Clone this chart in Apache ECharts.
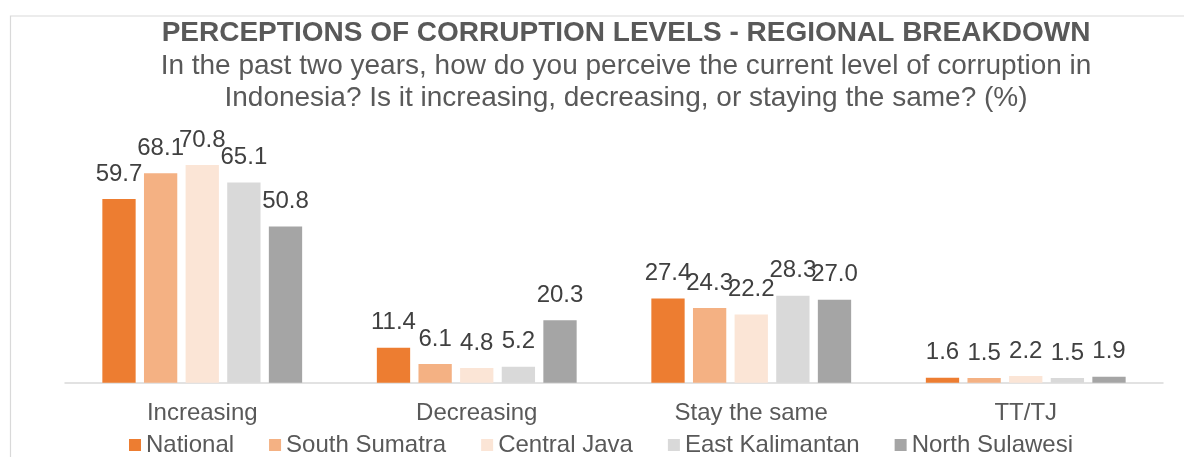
<!DOCTYPE html>
<html>
<head>
<meta charset="utf-8">
<script src="https://cdn.jsdelivr.net/npm/echarts@6/dist/echarts.min.js"></script>
<style>
html,body{margin:0;padding:0;background:#fff;}
#chart{width:1184px;height:457px;}
</style>
</head>
<body>
<div id="chart"></div>
<script>
const categories = ['Increasing', 'Decreasing', 'Stay the same', 'TT/TJ'];
const seriesNames = ['National', 'South Sumatra', 'Central Java', 'East Kalimantan', 'North Sulawesi'];
const national = [59.7, 11.4, 27.4, 1.6];
const southSumatra = [68.1, 6.1, 24.3, 1.5];
const centralJava = [70.8, 4.8, 22.2, 2.2];
const eastKalimantan = [65.1, 5.2, 28.3, 1.5];
const northSulawesi = [50.8, 20.3, 27.0, 1.9];
const colors = ['#ED7D31', '#F4B183', '#FBE5D6', '#D9D9D9', '#A5A5A5'];
const seriesData = [national, southSumatra, centralJava, eastKalimantan, northSulawesi];
const titleText = 'PERCEPTIONS OF CORRUPTION LEVELS - REGIONAL BREAKDOWN';
const subtitleText = 'In the past two years, how do you perceive the current level of corruption in\nIndonesia? Is it increasing, decreasing, or staying the same? (%)';

const FONT = '"Liberation Sans", Arial, sans-serif';
const chart = echarts.init(document.getElementById('chart'));
chart.setOption({
  animation: false,
  color: colors,
  textStyle: { fontFamily: FONT },
  graphic: [{
    type: 'rect',
    left: 8, top: 13.5,
    shape: { width: 1250, height: 520 },
    style: { fill: 'none', stroke: '#D9D9D9', lineWidth: 1.2 },
    silent: true, z: -1
  }],
  title: [{
    text: titleText,
    left: 626, top: 19.5, textAlign: 'center', padding: 0,
    textStyle: { fontFamily: FONT, fontSize: 28, lineHeight: 28, fontWeight: 'bold', color: '#595959' }
  }, {
    text: subtitleText,
    left: 626, top: 50, textAlign: 'center', padding: 0,
    textStyle: { fontFamily: FONT, fontSize: 28, lineHeight: 32.5, fontWeight: 'normal', color: '#595959', align: 'center' }
  }],
  legend: {
    top: 433, left: 129, padding: 0,
    itemWidth: 12, itemHeight: 12, itemGap: 35,
    icon: 'rect',
    textStyle: { fontFamily: FONT, fontSize: 24, color: '#595959' },
    data: seriesNames
  },
  grid: { left: 65, right: 21, top: 75.2, bottom: 74.3, containLabel: false },
  xAxis: {
    type: 'category', data: categories,
    axisTick: { show: false },
    axisLine: { lineStyle: { color: '#D9D9D9', width: 1.5 } },
    axisLabel: { fontFamily: FONT, fontSize: 24, color: '#595959', margin: 19 }
  },
  yAxis: { type: 'value', min: 0, max: 100, show: false, splitLine: { show: false } },
  series: seriesNames.map((name, i) => ({
    name, type: 'bar', data: seriesData[i],
    barWidth: 33.3, barGap: '25%',
    itemStyle: { color: colors[i] },
    label: { show: true, position: 'top', distance: 13, fontFamily: FONT, fontSize: 24, color: '#404040',
      formatter: p => p.value.toFixed(1) }
  }))
});
</script>
</body>
</html>
